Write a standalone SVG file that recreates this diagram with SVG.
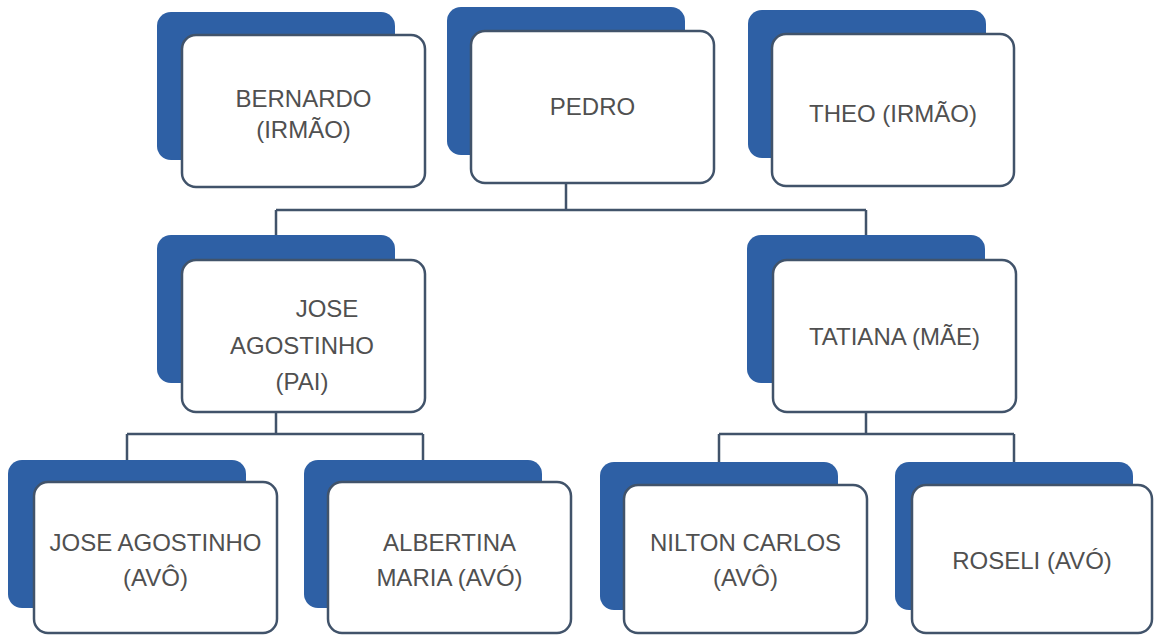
<svg xmlns="http://www.w3.org/2000/svg" width="1154" height="635" viewBox="0 0 1154 635">
<style>
.back{fill:#2e60a5;}
.front{fill:#ffffff;stroke:#41536a;stroke-width:2.5;}
.conn{fill:none;stroke:#41536a;stroke-width:2.5;}
.t{font-family:"Liberation Sans",Arial,sans-serif;font-size:24px;fill:#505050;text-anchor:middle;}
</style>
<rect width="1154" height="635" fill="#ffffff"/>
<g id="connectors">
<path class="conn" d="M566,183 V210 M276,210 H866 M276,210 V235 M866,210 V235"/>
<path class="conn" d="M276,412 V434 M127,434 H423 M127,434 V460 M423,434 V460"/>
<path class="conn" d="M866,412 V434 M719,434 H1014 M719,434 V462 M1014,434 V462"/>
</g>
<g id="bernardo">
<rect class="back" x="157" y="12" width="238" height="148" rx="14"/>
<rect class="front" x="182" y="35" width="243" height="152" rx="14"/>
<text class="t" x="303.5" y="107">BERNARDO</text>
<text class="t" x="303.5" y="138">(IRMÃO)</text>
</g>
<g id="pedro">
<rect class="back" x="447" y="7" width="238" height="148" rx="14"/>
<rect class="front" x="471" y="31" width="243" height="152" rx="14"/>
<text class="t" x="592.5" y="115">PEDRO</text>
</g>
<g id="theo">
<rect class="back" x="748" y="10" width="238" height="148" rx="14"/>
<rect class="front" x="772" y="34" width="242" height="152" rx="14"/>
<text class="t" x="893" y="122">THEO (IRMÃO)</text>
</g>
<g id="jose-pai">
<rect class="back" x="157" y="235" width="238" height="148" rx="14"/>
<rect class="front" x="182" y="260" width="243" height="152" rx="14"/>
<text class="t" x="327" y="317">JOSE</text>
<text class="t" x="302" y="354">AGOSTINHO</text>
<text class="t" x="302" y="390">(PAI)</text>
</g>
<g id="tatiana">
<rect class="back" x="747" y="235" width="238" height="148" rx="14"/>
<rect class="front" x="773" y="260" width="243" height="152" rx="14"/>
<text class="t" x="894.5" y="345">TATIANA (MÃE)</text>
</g>
<g id="jose-avo">
<rect class="back" x="8" y="460" width="238" height="148" rx="14"/>
<rect class="front" x="34" y="482" width="243" height="151" rx="14"/>
<text class="t" x="155.5" y="551">JOSE AGOSTINHO</text>
<text class="t" x="155.5" y="586">(AVÔ)</text>
</g>
<g id="albertina">
<rect class="back" x="304" y="460" width="238" height="148" rx="14"/>
<rect class="front" x="328" y="482" width="243" height="151" rx="14"/>
<text class="t" x="449.5" y="551">ALBERTINA</text>
<text class="t" x="449.5" y="586">MARIA (AVÓ)</text>
</g>
<g id="nilton">
<rect class="back" x="600" y="462" width="238" height="148" rx="14"/>
<rect class="front" x="624" y="485" width="243" height="148" rx="14"/>
<text class="t" x="745.5" y="551">NILTON CARLOS</text>
<text class="t" x="745.5" y="586">(AVÔ)</text>
</g>
<g id="roseli">
<rect class="back" x="895" y="462" width="238" height="148" rx="14"/>
<rect class="front" x="912" y="485" width="240" height="148" rx="14"/>
<text class="t" x="1032" y="569">ROSELI (AVÓ)</text>
</g>
</svg>
